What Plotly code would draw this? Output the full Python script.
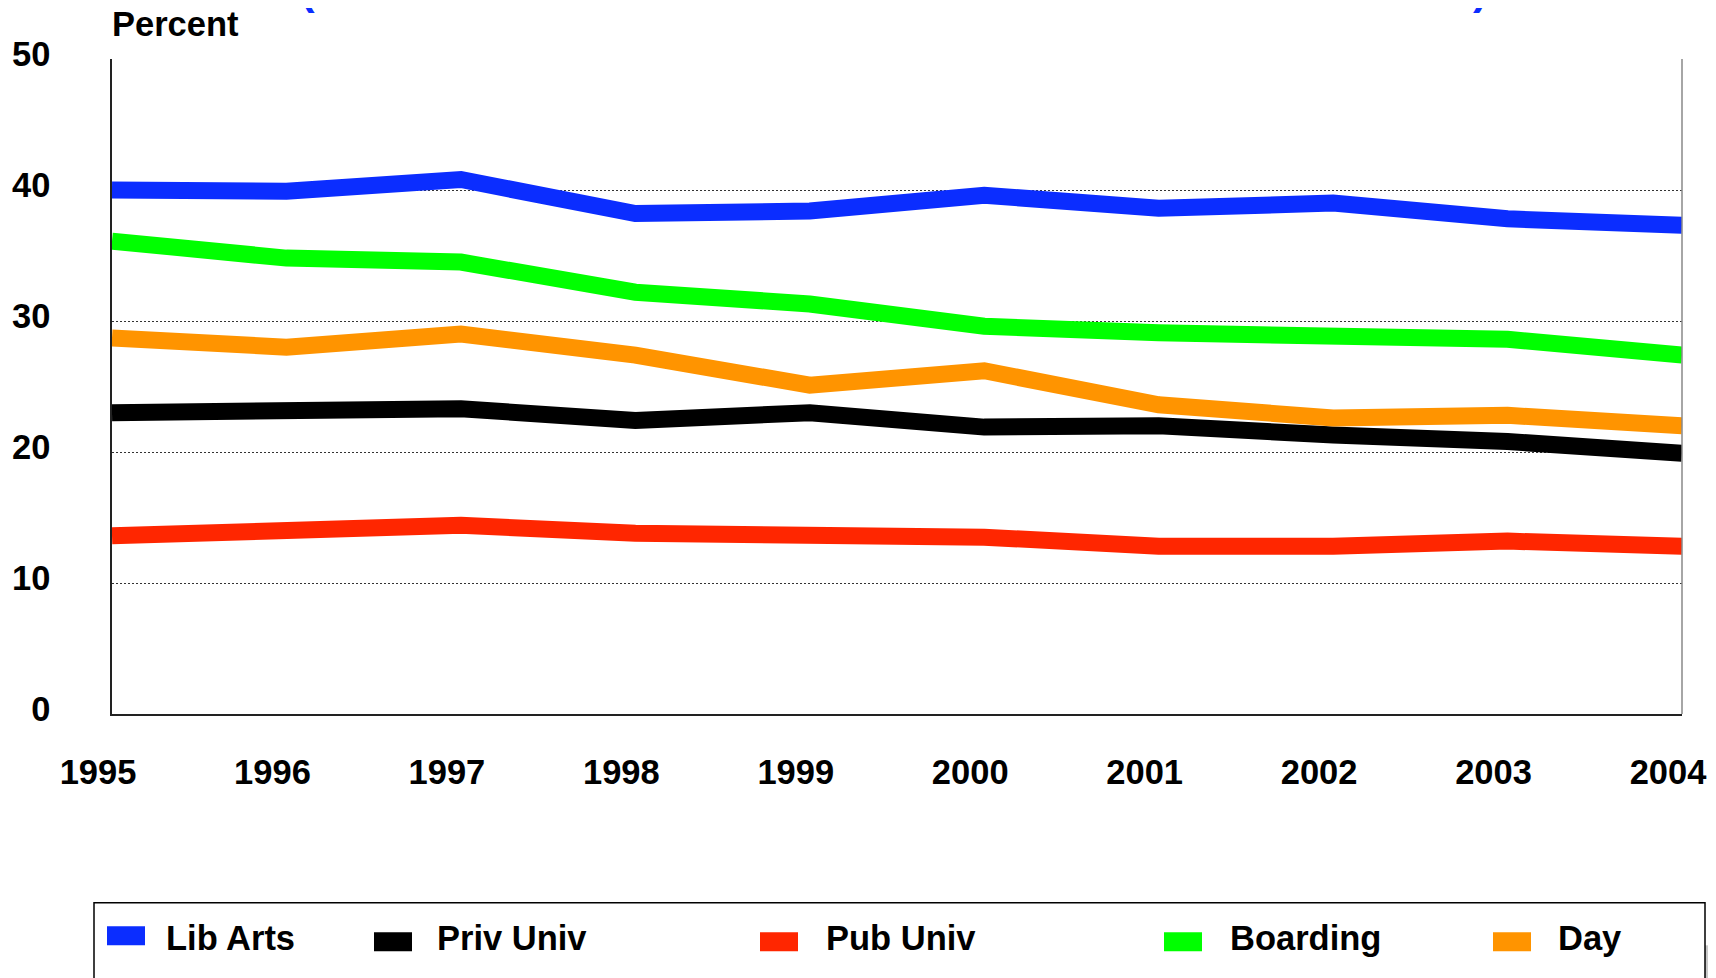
import plotly.graph_objects as go

years = [1995, 1996, 1997, 1998, 1999, 2000, 2001, 2002, 2003, 2004]
lib_arts = [40.0, 39.9, 40.8, 38.2, 38.4, 39.6, 38.6, 39.0, 37.8, 37.3]
priv_univ = [23.0, 23.2, 23.3, 22.4, 23.0, 21.9, 22.0, 21.3, 20.8, 19.9]
pub_univ = [13.6, 13.9, 14.4, 13.8, 13.6, 13.5, 12.8, 12.8, 13.2, 12.8]
boarding = [36.1, 34.8, 34.5, 32.2, 31.3, 29.6, 29.1, 28.7, 28.6, 27.4]
day = [28.7, 28.0, 29.0, 27.4, 25.1, 26.2, 23.6, 22.6, 22.8, 22.0]

series_names = ["Lib Arts", "Priv Univ", "Pub Univ", "Boarding", "Day"]
series_values = [lib_arts, priv_univ, pub_univ, boarding, day]
series_colors = ["#0b2dff", "#000000", "#ff2600", "#00ff00", "#ff9400"]
y_ticks = [0, 10, 20, 30, 40, 50]

W, H = 1716, 978
OFF = 8  # page body margin offset
L, R, T, B = 112, 34, 59, 263.5  # intended on-screen plot-area edges
PW, PH = W - L - R, H - T - B


def px(x):
    return (x - L) / PW


def py(y):
    return (H - B - y) / PH


FONT = "Liberation Sans, Arial, sans-serif"
FS = 34.5

fig = go.Figure()
for name, vals, col in zip(series_names, series_values, series_colors):
    fig.add_trace(go.Scatter(x=years, y=vals, name=name, mode="lines",
                             line=dict(color=col, width=17), showlegend=False))

fig.update_layout(
    width=W, height=H,
    margin=dict(l=L - OFF, r=R + OFF, t=T - OFF, b=B + OFF, pad=0),
    paper_bgcolor="white", plot_bgcolor="white",
    font=dict(family=FONT, size=FS, color="black", weight="bold"),
    xaxis=dict(range=[1995, 2004], tickvals=years, ticktext=[str(y) for y in years],
               automargin=False,
               showgrid=False, zeroline=False, showline=True, linecolor="#222", linewidth=1.5,
               ticks="", ticklabelstandoff=27, ticklabelshift=-14,
               tickfont=dict(family=FONT, size=FS, color="black", weight="bold")),
    yaxis=dict(range=[0, 50], tickvals=y_ticks, showgrid=True, gridcolor="#333",
               automargin=False,
               griddash="2px,2px", gridwidth=1, zeroline=False, showline=True,
               linecolor="#222", linewidth=1.5, ticks="", ticklabelstandoff=53,
               ticklabelshift=-5,
               tickfont=dict(family=FONT, size=FS, color="black", weight="bold")),
)

# right border of the plot area
fig.add_shape(type="line", xref="paper", yref="paper", x0=1, x1=1, y0=0, y1=1,
              line=dict(color="#888", width=1.5))

# axis title
fig.add_annotation(text="Percent", xref="paper", yref="paper", x=px(110), y=py(24),
                   xanchor="left", yanchor="middle", showarrow=False,
                   font=dict(family=FONT, size=FS, color="black", weight="bold"))

# cut-off title remnants (blue parentheses at top edge)
for ch, xx in [("(", 307), (")", 1480)]:
    fig.add_annotation(text=ch, xref="paper", yref="paper", x=px(xx), y=py(15),
                       xanchor="center", yanchor="bottom", showarrow=False,
                       font=dict(family=FONT, size=44, color="#0b2dff", weight="bold"))

# legend box (manual) and its shadow
fig.add_shape(type="rect", xref="paper", yref="paper", x0=px(1705), x1=px(1716),
              y0=py(990), y1=py(946), fillcolor="#c8c8c8", line=dict(width=0))
fig.add_shape(type="rect", xref="paper", yref="paper", x0=px(94), x1=px(1705),
              y0=py(990), y1=py(903.5), fillcolor="white",
              line=dict(color="black", width=1.5))

sw_x = [107, 374, 760, 1164, 1493]
tx_x = [164, 435, 824, 1228, 1556]
sw_top = [927, 933, 933, 933, 933]
for name, col, sx, tx, st in zip(series_names, series_colors, sw_x, tx_x, sw_top):
    fig.add_shape(type="rect", xref="paper", yref="paper", x0=px(sx), x1=px(sx + 38),
                  y0=py(st + 19), y1=py(st), fillcolor=col, line=dict(width=0))
    fig.add_annotation(text=name, xref="paper", yref="paper", x=px(tx), y=py(939),
                       xanchor="left", yanchor="middle", showarrow=False,
                       font=dict(family=FONT, size=FS, color="black", weight="bold"))

fig.write_html("out.html")
